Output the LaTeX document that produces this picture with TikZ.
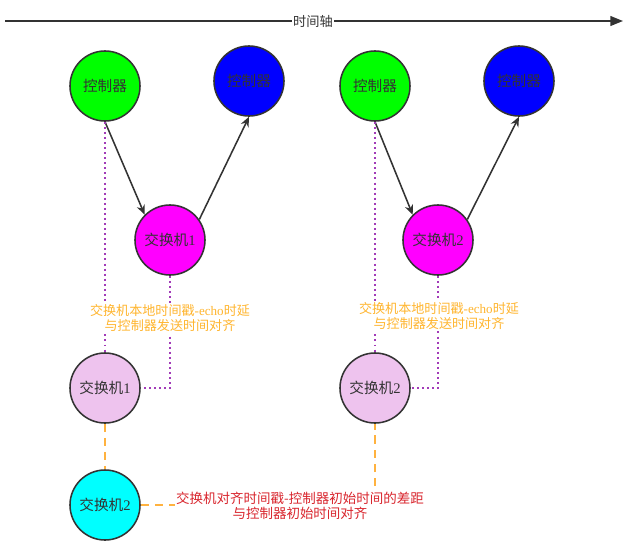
\documentclass[tikz,border=0pt]{standalone}
\usepackage{fontspec}
\setmainfont{Liberation Serif}
\newfontfamily\cjk{Noto Sans CJK SC}
\usepackage{xcolor}
\usetikzlibrary{arrows.meta,positioning}
\definecolor{edge}{HTML}{333333}
\definecolor{ctrlgreen}{HTML}{00FF00}
\definecolor{ctrlblue}{HTML}{0000FF}
\definecolor{swmag}{HTML}{FF00FF}
\definecolor{swpink}{HTML}{EEC3EE}
\definecolor{swcyan}{HTML}{00FFFF}
\definecolor{syncpurple}{HTML}{A23BB8}
\definecolor{syncorange}{HTML}{FFB23F}
\definecolor{labelorange}{HTML}{FFB52E}
\definecolor{labelred}{HTML}{D9262E}

\begin{document}
\begin{tikzpicture}[
    x=0.025cm, y=0.025cm,
    ball/.style={circle, draw=edge, line width=1.1pt, minimum size=1.75cm, inner sep=0pt, font=\fontsize{10.4}{12}\selectfont, text=edge},
    arrow/.style={-{Stealth[length=7pt,width=6pt]}, line width=1.1pt, edge},
    sync/.style={syncpurple, line width=1.4pt, dash pattern=on 1.4pt off 2.2pt},
    offsetline/.style={syncorange, line width=1.3pt, dash pattern=on 6pt off 4pt},
    note/.style={fill=white, inner sep=1pt, align=center, font=\fontsize{9.3}{10.8}\selectfont}
]
\useasboundingbox (0,0) rectangle (640,-555);

% Time axis
\coordinate (t0) at (5,-21);
\coordinate (t1) at (623,-21);
\draw[-{Triangle[length=9pt,width=7pt]}, line width=1.1pt, edge] (t0) -- (t1);
\node[fill=white, inner sep=1pt, font=\fontsize{9.4}{11}\selectfont\cjk, text=edge] (axis) at (313,-21) {时间轴};

% Round 1
\node[ball, fill=ctrlgreen] (ctrlA) at (105,-86) {\cjk 控制器};
\node[ball, fill=ctrlblue] (ctrlB) at (249,-81) {\cjk 控制器};
\node[ball, fill=swmag] (swA) at (170,-240) {{\cjk 交换机}1};
\node[ball, fill=swpink] (swA1) at (105,-388) {{\cjk 交换机}1};

% Round 2
\node[ball, fill=ctrlgreen] (ctrlC) at (375,-86) {\cjk 控制器};
\node[ball, fill=ctrlblue] (ctrlD) at (519,-81) {\cjk 控制器};
\node[ball, fill=swmag] (swB) at (438,-240) {{\cjk 交换机}2};
\node[ball, fill=swpink] (swB1) at (375,-388) {{\cjk 交换机}2};

% Aligned switch
\node[ball, fill=swcyan] (swB2) at (105,-505) {{\cjk 交换机}2};

% Arrows
\draw[arrow] (ctrlA.south) -- (swA.north west);
\draw[arrow] (swA.35) -- (ctrlB.south);
\draw[arrow] (ctrlC.south) -- (swB.north west);
\draw[arrow] (swB.35) -- (ctrlD.south);

% Echo alignment
\draw[sync] (ctrlA.south) -- (swA1.north);
\draw[sync] (swA.south) |- (swA1.east);
\draw[sync] (ctrlC.south) -- (swB1.north);
\draw[sync] (swB.south) |- (swB1.east);
\node[note, text=labelorange] (echoA) at (170,-318) {{\cjk 交换机本地时间戳}-echo{\cjk 时延}\\{\cjk 与控制器发送时间对齐}};
\node[note, text=labelorange] (echoB) at (439,-316) {{\cjk 交换机本地时间戳}-echo{\cjk 时延}\\{\cjk 与控制器发送时间对齐}};

% Offset alignment
\draw[offsetline] (swA1.south) -- (swB2.north);
\draw[offsetline] (swB2.east) -| (swB1.south);
\node[note, text=labelred, font=\fontsize{9.6}{11}\selectfont\cjk] (offset) at (300,-506) {交换机对齐时间戳-控制器初始时间的差距\\与控制器初始时间对齐};
\end{tikzpicture}
\end{document}
